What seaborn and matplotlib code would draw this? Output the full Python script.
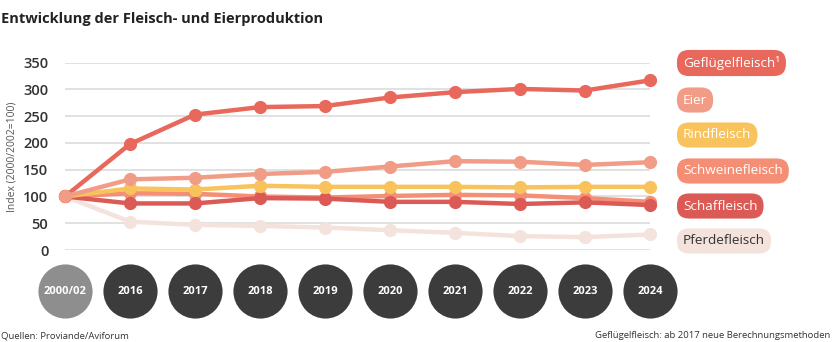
import matplotlib
matplotlib.use("Agg")
import matplotlib.pyplot as plt
import matplotlib.transforms as mtransforms
import seaborn as sns
import pandas as pd

years = ["2000/02", "2016", "2017", "2018", "2019", "2020", "2021", "2022", "2023", "2024"]
gefluegel = [100, 198, 253, 267, 269, 285, 295, 301, 298, 317]
eier = [100, 132, 135, 142, 146, 156, 166, 165, 159, 164]
rind = [100, 115, 113, 120, 118, 118, 118, 117, 118, 118]
schwein = [100, 106, 105, 100, 98, 101, 103, 102, 97, 90]
schaf = [100, 87, 87, 97, 96, 90, 90, 86, 89, 84]
pferd = [100, 53, 47, 45, 42, 37, 32, 26, 24, 29]

labels = ["Geflügelfleisch\u00b9", "Eier", "Rindfleisch", "Schweinefleisch", "Schaffleisch", "Pferdefleisch"]
series = [gefluegel, eier, rind, schwein, schaf, pferd]
colors = ["#e8685b", "#f09c86", "#f8c35c", "#f48f75", "#dc5a55", "#f4e2dc"]
text_colors = ["white", "white", "white", "white", "white", "#333333"]
draw_order = [5, 3, 4, 2, 0, 1]

rows = []
for i, (lab, vals) in enumerate(zip(labels, series)):
    for j, v in enumerate(vals):
        rows.append({"Serie": lab, "x": j, "y": v})
df = pd.DataFrame(rows)

sns.set_theme(style="white")
plt.rcParams["font.family"] = ["Open Sans", "DejaVu Sans"]

fig = plt.figure(figsize=(8.36, 3.42), dpi=100)
ax = fig.add_axes([65 / 836, 1 - 250 / 342, (650 - 65) / 836, (250 - 62.7) / 342])

for k in draw_order:
    sub = df[df["Serie"] == labels[k]]
    sns.lineplot(data=sub, x="x", y="y", ax=ax, color=colors[k], linewidth=3.2,
                 marker="o", markersize=9.5, markeredgewidth=0, clip_on=False,
                 legend=False, zorder=3 + draw_order.index(k))

ax.set_xlim(0, 9)
ax.set_ylim(0, 350)
ax.set_yticks([0, 50, 100, 150, 200, 250, 300, 350])
ax.set_xticks([])
ax.set_xlabel("")
ax.set_ylabel("Index (2000/2002=100)", fontsize=7.5, color="#555555")
ax.yaxis.set_label_coords(-47 / 585, 0.5)
for sp in ax.spines.values():
    sp.set_visible(False)
ax.grid(axis="y", color="#dedede", linewidth=1.3)
ax.tick_params(axis="y", length=0, pad=12, labelsize=10.5, labelcolor="#333333")
for t in ax.get_yticklabels():
    t.set_fontweight("semibold")

# year circles
trans = mtransforms.blended_transform_factory(ax.transData, fig.transFigure)
yc = 1 - 291 / 342
for j, yr in enumerate(years):
    c = "#8e8e8e" if j == 0 else "#3c3c3c"
    ax.scatter([j], [yc], s=1520, color=c, transform=trans, clip_on=False, zorder=1, linewidths=0)
    ax.text(j, yc, yr, transform=trans, ha="center", va="center", color="white",
            fontsize=8, fontweight="bold", zorder=2)

# legend pills
ys = [63, 100, 135, 171, 206, 241]
for lab, c, tc, yp in zip(labels, colors, text_colors, ys):
    fig.text(683 / 836, 1 - yp / 342, lab, ha="left", va="center", fontsize=9.7, color=tc,
             bbox=dict(boxstyle="round,pad=0.45,rounding_size=0.9", fc=c, ec="none"))

fig.text(1 / 836, 1 - 19 / 342, "Entwicklung der Fleisch- und Eierproduktion", fontsize=10.5,
         fontweight="bold", color="#222222", va="center", ha="left")
fig.text(1 / 836, 1 - 336 / 342, "Quellen: Proviande/Aviforum", fontsize=6.8, color="#333333",
         va="center", ha="left")
fig.text(830 / 836, 1 - 336 / 342, "Geflügelfleisch: ab 2017 neue Berechnungsmethoden", fontsize=6.8,
         color="#333333", va="center", ha="right")

fig.savefig("out.png", dpi=100)
